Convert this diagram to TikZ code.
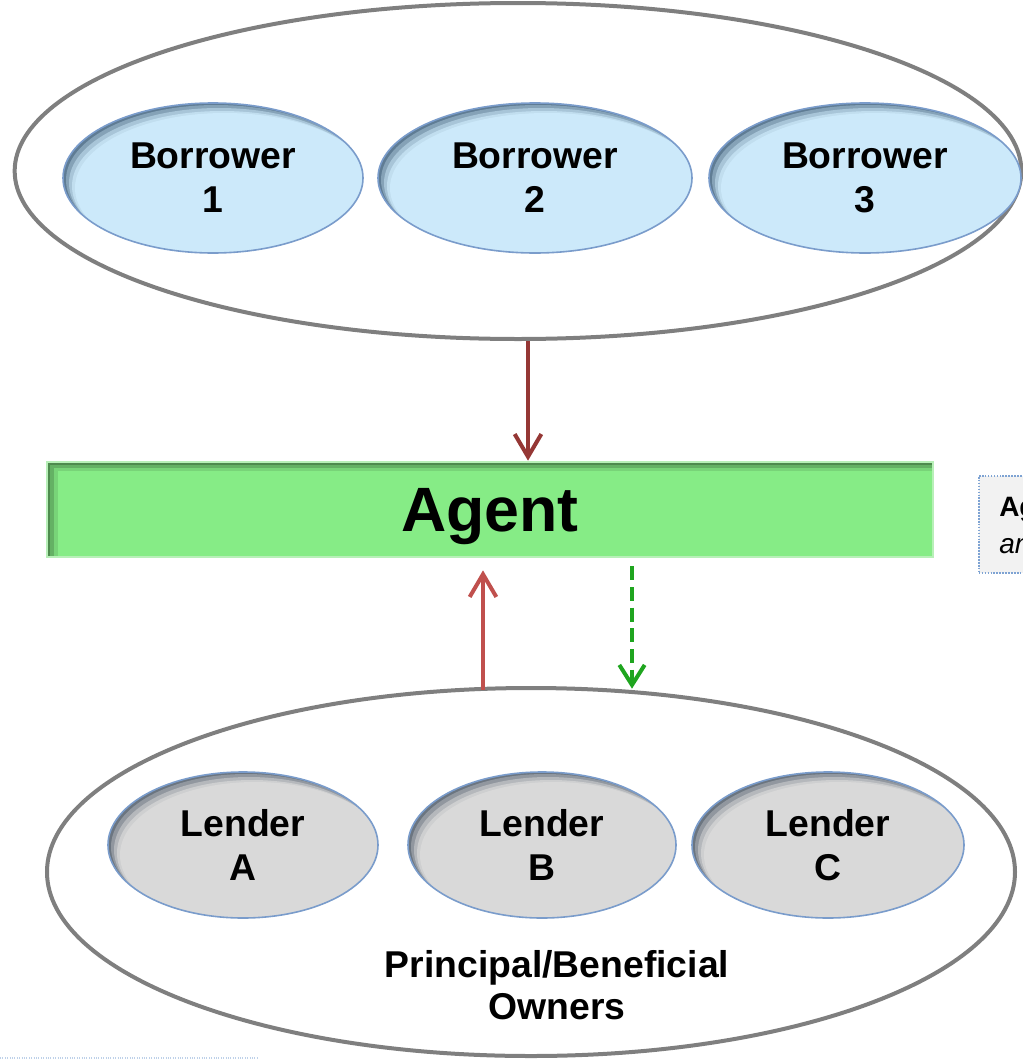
\documentclass[tikz,border=0pt]{standalone}
\usepackage{fontspec}
\setmainfont{Liberation Sans}
\usetikzlibrary{shapes.geometric,arrows.meta}
\definecolor{outergray}{HTML}{7F7F7F}
\definecolor{bfill}{HTML}{CCE9FA}
\definecolor{bshadow}{HTML}{5F7C94}
\definecolor{bborder}{HTML}{7A9CCB}
\definecolor{lfill}{HTML}{D9D9D9}
\definecolor{lshadow}{HTML}{6B7580}
\definecolor{agfill}{HTML}{86EC86}
\definecolor{agshadow}{HTML}{4E8A4E}
\definecolor{agborder}{HTML}{B8F0B8}
\definecolor{darkred}{HTML}{953735}
\definecolor{lightred}{HTML}{C0504D}
\definecolor{dgreen}{HTML}{1FA51F}
\definecolor{notefill}{HTML}{F2F2F2}
\definecolor{noteborder}{HTML}{7EA3D3}
\newcommand{\innershade}[6]{%
  \begin{scope}
    \clip (#1,#2) ellipse (#3 and #4);
    \fill[#6] (#1,#2) ellipse (#3 and #4);
    \fill[#5,opacity=.35] (#1+3,#2+2) ellipse (#3 and #4);
    \fill[#5,opacity=.5] (#1+6,#2+5) ellipse (#3 and #4);
    \fill[#5,opacity=.7] (#1+9,#2+8) ellipse (#3 and #4);
    \fill[#5] (#1+12,#2+10) ellipse (#3 and #4);
  \end{scope}}
\tikzset{
  outerell/.style={ellipse, draw=outergray, line width=3pt, inner sep=0pt},
  partyell/.style={ellipse, draw=#1, line width=1.2pt, inner sep=0pt, align=center,
     font=\fontsize{28}{33}\selectfont\bfseries},
  flowarrow/.style={line width=3pt, -{Straight Barb[length=17pt,width=20pt,line width=3pt]}},
  dasharrow/.style={line width=3pt, dash pattern=on 10.5pt off 5pt,
     -{Straight Barb[length=15pt,width=19pt,line width=3pt]}},
}
\begin{document}
\begin{tikzpicture}[x=0.75pt,y=-0.75pt]
\useasboundingbox (0,0) rectangle (1023,1060);

% top outer ellipse
\node[outerell, minimum width=755pt, minimum height=252pt] (borrowers) at (518,171) {};

% borrower ellipses
\innershade{213}{178}{150}{75}{bfill}{bshadow}
\node[partyell=bborder, minimum width=225pt, minimum height=112.5pt] (b1) at (213,178) {Borrower\\1};
\innershade{535}{178}{157}{75}{bfill}{bshadow}
\node[partyell=bborder, minimum width=235.5pt, minimum height=112.5pt] (b2) at (535,178) {Borrower\\2};
\innershade{865}{178}{156}{75}{bfill}{bshadow}
\node[partyell=bborder, minimum width=234pt, minimum height=112.5pt] (b3) at (865,178) {Borrower\\3};

% agent bar
\begin{scope}
  \clip (47,462) rectangle (933,557);
  \fill[agshadow] (47,462) rectangle (933,557);
  \fill[agfill,opacity=.4] (50,465) rectangle (940,565);
  \fill[agfill,opacity=.6] (54,468) rectangle (940,565);
  \fill[agfill] (58,471) rectangle (940,565);
\end{scope}
\node[draw=agborder, line width=2pt, minimum width=664.5pt, minimum height=71.25pt, inner sep=0pt,
  label={[font=\fontsize{47}{52}\selectfont\bfseries, yshift=-5pt, inner sep=0pt]center:Agent}] (agent) at (490,509.5) {};

% side note, clipped by the page edge
\begin{scope}
  \clip (970,465) rectangle (1023,580);
  \node[draw=noteborder, densely dotted, line width=1.2pt, fill=notefill, anchor=north west,
    minimum width=60pt, minimum height=72.75pt, inner sep=0pt] (note) at (978,475) {};
  \node[anchor=base west, inner sep=0pt, font=\fontsize{21}{25}\selectfont\bfseries] (notea) at (999,516) {Ag};
  \node[anchor=base west, inner sep=0pt, font=\fontsize{21}{25}\selectfont\itshape] (noteb) at (999,553) {an};
\end{scope}

% bottom outer ellipse
\node[outerell, minimum width=726pt, minimum height=276pt] (lenders) at (531,872) {};

% lender ellipses
\innershade{243}{845}{135}{73}{lfill}{lshadow}
\node[partyell=bborder, minimum width=202.5pt, minimum height=109.5pt] (la) at (243,845) {Lender\\A};
\innershade{542}{845}{134}{73}{lfill}{lshadow}
\node[partyell=bborder, minimum width=201pt, minimum height=109.5pt] (lb) at (542,845) {Lender\\B};
\innershade{828}{845}{136}{73}{lfill}{lshadow}
\node[partyell=bborder, minimum width=204pt, minimum height=109.5pt] (lc) at (828,845) {Lender\\C};

\node[align=center, inner sep=0pt, font=\fontsize{28}{31.5}\selectfont\bfseries] (owners) at (557,985) {Principal/Beneficial\\Owners};

% connectors
\coordinate (a1s) at (528,343);
\coordinate (a1e) at (528,460);
\draw[flowarrow, darkred] (borrowers.south -| a1s) -- (agent.north -| a1e);
\coordinate (a2) at (483,0);
\draw[flowarrow, lightred] ([yshift=-3pt]lenders.north -| a2) -- ([yshift=-9pt]agent.south -| a2);
\coordinate (a3) at (632,0);
\draw[dasharrow, dgreen] ([yshift=-6pt]agent.south -| a3) -- ([yshift=-2pt]lenders.north -| a3);

% faint line bottom left
\coordinate (fl1) at (0,1058);
\coordinate (fl2) at (258,1058);
\draw[noteborder!50, densely dotted, line width=0.8pt] (fl1) -- (fl2);
\end{tikzpicture}
\end{document}
